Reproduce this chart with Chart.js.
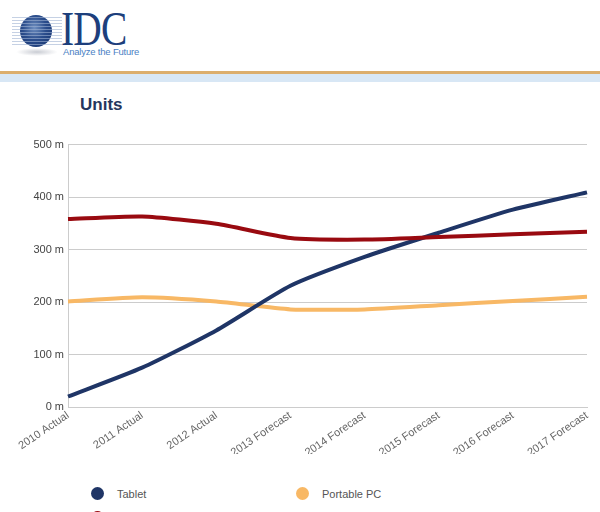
<!DOCTYPE html>
<html>
<head>
<meta charset="utf-8">
<script src="https://cdn.jsdelivr.net/npm/chart.js@4"></script>
<style>
  body { margin: 0; width: 600px; height: 512px; overflow: hidden; background: #fff; font-family: Arial, "Liberation Sans", sans-serif; position: relative; }
  #globe { position: absolute; left: 20px; top: 15px; width: 32px; height: 32px; border-radius: 50%;
    background: radial-gradient(circle at 45% 40%, #6f8fc0 0%, #2b4d8c 45%, #14306a 100%); }
  #lines { position: absolute; left: 12px; top: 17px; width: 50px; height: 28px;
    background: repeating-linear-gradient(to bottom, #9fb2d2 0px, #9fb2d2 1px, transparent 1px, transparent 3px); opacity: 0.6; }
  #shadow { position: absolute; left: 16px; top: 48px; width: 42px; height: 8px; border-radius: 50%; background: radial-gradient(ellipse, #c9ccd3 0%, rgba(255,255,255,0) 70%); }
  #idc { position: absolute; left: 61px; top: 5px; font-family: "Liberation Serif", "DejaVu Serif", serif; font-size: 48px; color: #1d3f7c; letter-spacing: -1px; line-height: 48px; transform: scaleX(0.82); transform-origin: left top; }
  #tag { position: absolute; left: 63px; top: 46px; font-size: 9.5px; color: #4a7fc4; letter-spacing: -0.2px; }
  #rule { position: absolute; left: 0; top: 71px; width: 600px; height: 3px; background: #dcae6c; }
  #band { position: absolute; left: 0; top: 74px; width: 600px; height: 8px; background: #d8e7f5; }
  #title { position: absolute; left: 80px; top: 95px; font-size: 17px; font-weight: bold; color: #25365d; }
  #wrap { position: absolute; left: 0; top: 134px; width: 600px; height: 350px; }
  .leg { position: absolute; font-size: 11px; color: #555; }
  .leg i { position: absolute; width: 13px; height: 13px; border-radius: 50%; left: -26px; top: -1px; }
</style>
</head>
<body>
<div id="globe"></div>
<div id="lines"></div>
<div id="shadow"></div>
<div id="idc">IDC</div>
<div id="tag">Analyze the Future</div>
<div id="rule"></div>
<div id="band"></div>
<div id="title">Units</div>
<div id="wrap"><canvas id="chart"></canvas></div>
<div id="legend"></div>
<script>
const categories = ['2010 Actual', '2011 Actual', '2012 Actual', '2013 Forecast', '2014 Forecast', '2015 Forecast', '2016 Forecast', '2017 Forecast'];
const seriesNames = ['Tablet', 'Portable PC', 'Total PC'];
const tablet = [20, 75, 146, 231, 286, 332, 376, 409];
const portablePC = [201, 209, 201, 186, 186, 194, 202, 210];
const totalPC = [358, 363, 349, 322, 319, 324, 329, 334];
const yTicks = [0, 100, 200, 300, 400, 500];

const colors = ['#1f3566', '#f8b865', '#990a10'];
const drawOrder = [1, 2, 0];
const values = [tablet, portablePC, totalPC];

const datasets = seriesNames.map((name, i) => ({
  label: name,
  data: values[i],
  borderColor: colors[i],
  backgroundColor: colors[i],
  borderWidth: 4,
  pointRadius: 0,
  tension: 0.2,
  order: drawOrder[i],
}));

new Chart(document.getElementById('chart'), {
  type: 'line',
  data: { labels: categories, datasets: datasets },
  options: {
    responsive: true,
    maintainAspectRatio: false,
    animation: false,
    layout: { padding: { top: 10, right: 13, left: 0, bottom: 30 } },
    plugins: { legend: { display: false }, tooltip: { enabled: false } },
    scales: {
      x: {
        grid: { display: false },
        border: { color: '#cccccc' },
        ticks: {
          color: '#666',
          font: { family: 'Arial', size: 11 },
          minRotation: 34,
          maxRotation: 34,
          padding: -6,
        },
        afterFit: (s) => { s.height = 47; },
      },
      y: {
        min: 0,
        max: 500,
        afterBuildTicks: (s) => { s.ticks = yTicks.map((v) => ({ value: v })); },
        grid: { color: '#cccccc', drawTicks: false },
        border: { color: '#cccccc' },
        ticks: {
          color: '#444',
          font: { family: 'Arial', size: 11 },
          padding: 4,
          callback: (v) => v + ' m',
        },
        afterFit: (s) => { s.width = 68; },
      },
    },
  },
});

// legend in two columns, like the original
const legendPos = [[117, 488], [322, 488], [117, 512]];
const legend = document.getElementById('legend');
seriesNames.forEach((name, i) => {
  const d = document.createElement('div');
  d.className = 'leg';
  d.style.left = legendPos[i][0] + 'px';
  d.style.top = legendPos[i][1] + 'px';
  d.innerHTML = '<i style="background:' + colors[i] + '"></i>' + name;
  legend.appendChild(d);
});
</script>
</body>
</html>
